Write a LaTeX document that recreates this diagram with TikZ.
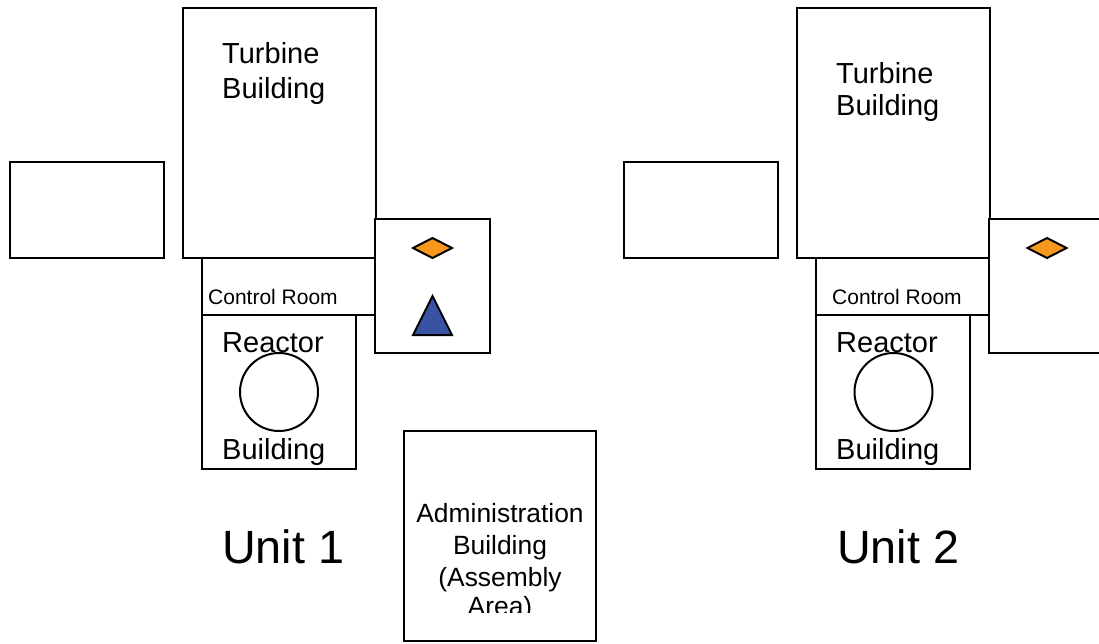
\documentclass[tikz,border=0pt]{standalone}
\usepackage{fontspec}
\setmainfont{Liberation Sans}
\definecolor{orng}{HTML}{F7981D}
\definecolor{blu}{HTML}{3953A4}
\tikzset{
 room/.style={draw=black,line width=2pt,fill=white,rectangle,inner sep=0pt,minimum width=#1,anchor=north west},
 core/.style={circle,draw=black,line width=2pt,fill=white,minimum size=78pt,inner sep=0pt},
 lbl/.style={inner sep=0pt,anchor=base west,text=black},
 big/.style={font=\fontsize{29}{33}\selectfont},
 small/.style={font=\fontsize{21}{25}\selectfont},
 adm/.style={font=\fontsize{26.4}{31}\selectfont,anchor=base,inner sep=0pt},
 huge/.style={font=\fontsize{46.7}{50}\selectfont},
 mark1/.style={draw=black,line width=2pt,line join=miter},
}
\begin{document}
\begin{tikzpicture}[x=1pt,y=-1pt]
\useasboundingbox (0,0) rectangle (1099,643);
% Unit 1
\node[room=154pt,minimum height=96pt] (store1) at (9,161) {};
\node[room=174pt,minimum height=57pt] (ctrl1) at (201,257) {};
\node[room=193pt,minimum height=250pt] (turb1) at (182,7) {};
\node[room=154pt,minimum height=154pt] (reac1) at (201,314) {};
\node[room=115pt,minimum height=134pt] (side1) at (374,218) {};
\node[core] (core1) at (279,392) {};
\draw[mark1,fill=orng] (413,248) -- (432.5,238) -- (452,248) -- (432.5,258) -- cycle;
\draw[mark1,fill=blu] (432.5,296) -- (452,335) -- (413,335) -- cycle;
\node[lbl,big] (t1a) at (222,63) {Turbine};
\node[lbl,big] (t1b) at (222,98) {Building};
\node[lbl,small] (c1) at (208,304) {Control Room};
\node[lbl,big] (r1a) at (222,352) {Reactor};
\node[lbl,big] (r1b) at (222,459) {Building};
\node[lbl,huge] (u1) at (222,563) {Unit 1};
% Administration
\node[room=192pt,minimum height=210pt] (admin) at (403,430) {};
\begin{scope}
\clip (405,420) rectangle (595,612);
\node[adm] (a1) at (500,522) {Administration};
\node[adm] (a2) at (500,554) {Building};
\node[adm] (a3) at (500,586) {(Assembly};
\node[adm] (a4) at (500,615) {Area)};
\end{scope}
% Unit 2
\node[room=154pt,minimum height=96pt] (store2) at (623,161) {};
\node[room=174pt,minimum height=57pt] (ctrl2) at (815,257) {};
\node[room=193pt,minimum height=250pt] (turb2) at (796,7) {};
\node[room=154pt,minimum height=154pt] (reac2) at (815,314) {};
\draw[draw=black,line width=2pt,fill=white] (1099,219) -- (989,219) -- (989,353) -- (1099,353);
\node[core] (core2) at (893.5,392) {};
\draw[mark1,fill=orng] (1027.5,248) -- (1047,238) -- (1066.5,248) -- (1047,258) -- cycle;
\node[lbl,big] (t2a) at (836,83) {Turbine};
\node[lbl,big] (t2b) at (836,115) {Building};
\node[lbl,small] (c2) at (832,304) {Control Room};
\node[lbl,big] (r2a) at (836,352) {Reactor};
\node[lbl,big] (r2b) at (836,459) {Building};
\node[lbl,huge] (u2) at (837,563) {Unit 2};
\end{tikzpicture}
\end{document}
